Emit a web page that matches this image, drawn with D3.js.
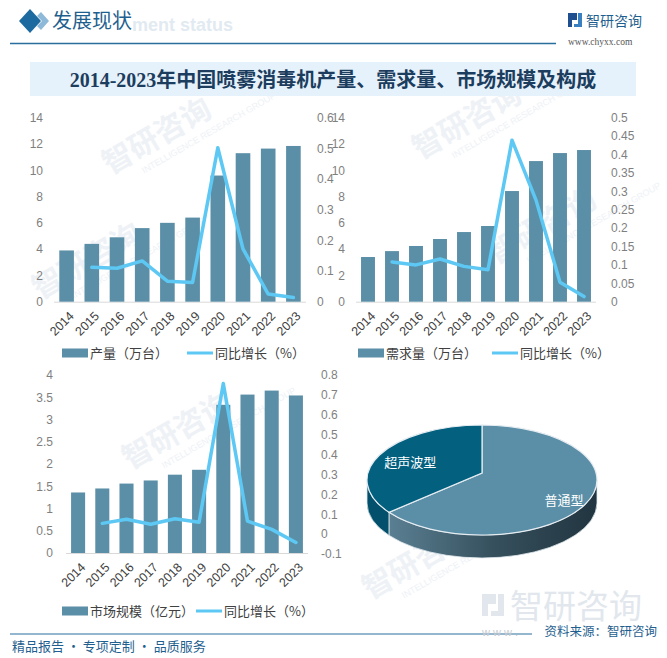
<!DOCTYPE html>
<html><head><meta charset="utf-8">
<script src="https://cdn.jsdelivr.net/npm/d3@7"></script>
<style>body{margin:0;background:#fff}svg{display:block}</style>
</head><body><svg id="c" width="667" height="658"></svg>
<script>
const years = ['2014','2015','2016','2017','2018','2019','2020','2021','2022','2023'];
const productionValues = [3.9,4.4,4.9,5.6,6.0,6.4,9.6,11.3,11.65,11.85];
const productionGrowth = [null,0.112,0.109,0.133,0.067,0.063,0.502,0.172,0.025,0.014];
const demandValues = [3.4,3.85,4.24,4.77,5.3,5.76,8.42,10.7,11.31,11.54];
const demandGrowth = [null,0.108,0.100,0.116,0.096,0.087,0.439,0.276,0.053,0.014];
const marketValues = [1.36,1.45,1.56,1.63,1.76,1.87,3.33,3.56,3.65,3.54];
const marketGrowth = [null,0.054,0.075,0.050,0.077,0.060,0.757,0.065,0.024,-0.042];
const ticksLeft14 = [0,2,4,6,8,10,12,14];
const ticksRight06 = [0,0.1,0.2,0.3,0.4,0.5,0.6];
const ticksRight05 = [0,0.05,0.1,0.15,0.2,0.25,0.3,0.35,0.4,0.45,0.5];
const ticksLeft4 = [0,0.5,1,1.5,2,2.5,3,3.5,4];
const ticksRight08 = [-0.1,0,0.1,0.2,0.3,0.4,0.5,0.6,0.7,0.8];
const pieNames = ['普通型','超声波型'];
const pieShares = [65,35];
const legendNames = ['产量（万台）','需求量（万台）','市场规模（亿元）','同比增长（%）'];

const svg = d3.select('#c');
const CJK = '"Noto Sans CJK SC","Noto Sans",sans-serif';
const NUM = '"Liberation Sans","Noto Sans",sans-serif';
const BAR = '#5b8fa7', LINE = '#5dc8f3';
const fmt = d => String(+d.toFixed(2));

// faint watermarks
const wm = svg.append('g').attr('fill','#eef2f6');
[[110,175],[420,160],[130,470],[495,265],[370,600],[40,300]].forEach(([x,y])=>{
  const g = wm.append('g').attr('transform',`translate(${x},${y}) rotate(-30)`);
  g.append('text').attr('font-family',CJK).attr('font-size',30).attr('font-weight','bold').text('智研咨询');
  g.append('text').attr('y',16).attr('x',30).attr('font-family',NUM).attr('font-size',9).text('INTELLIGENCE RESEARCH GROUP');
});

// header
svg.append('path').attr('d','M30,9 L41,21 L30,33 L19,21 Z').attr('fill','#1d6aa0');
svg.append('path').attr('d','M41,12 L49,21 L41,30 L37,26 L42,21 L37,16 Z').attr('fill','#8fb9d8');
svg.append('text').attr('x',132).attr('y',31).attr('font-family',NUM).attr('font-weight','bold')
  .attr('font-size',18).attr('fill','#e2eaf1').text('ment status');
svg.append('text').attr('x',52).attr('y',28).attr('font-family',CJK).attr('font-size',20)
  .attr('fill','#1f5f8f').text('发展现状');
svg.append('line').attr('x1',10).attr('x2',556).attr('y1',43.5).attr('y2',43.5).attr('stroke','#2a6e9e').attr('stroke-width',1.5);
// logo
const lg = svg.append('g').attr('fill','#1f4f8f');
lg.append('path').attr('d','M568,13 h9 v7 h-5 v7 h-4 Z');
lg.append('path').attr('d','M578,13 h4 v14 h-8 v-3 h4 Z').attr('fill','#3a7fc0');
svg.append('text').attr('x',586).attr('y',26).attr('font-family',CJK).attr('font-size',14).attr('fill','#1f5f8f').text('智研咨询');
svg.append('text').attr('x',568).attr('y',45).attr('font-family','"Liberation Serif",serif').attr('font-size',9.5).attr('fill','#555').text('www.chyxx.com');

// title bar
svg.append('rect').attr('x',30).attr('y',62).attr('width',606).attr('height',34).attr('fill','#e6f2fb');
svg.append('text').attr('x',333).attr('y',87).attr('text-anchor','middle').attr('font-family','"Liberation Serif","Noto Sans CJK SC",serif')
  .attr('font-weight','bold').attr('font-size',20).attr('fill','#1c3d5e').text('2014-2023年中国喷雾消毒机产量、需求量、市场规模及构成');

function combo(o){
  const g = svg.append('g');
  const x = d3.scaleBand().domain(years).range([o.x0,o.x1]).paddingInner(0.42).paddingOuter(0.21);
  const yL = d3.scaleLinear().domain(o.leftDomain).range([o.yBot,o.yTop]);
  const yR = d3.scaleLinear().domain(o.rightDomain).range([o.rBot,o.rTop]);
  const aL = g.append('g').attr('transform',`translate(${o.leftLabelX},0)`)
    .call(d3.axisLeft(yL).tickValues(o.leftTicks).tickSize(0).tickPadding(0).tickFormat(fmt));
  const aR = g.append('g').attr('transform',`translate(${o.rightLabelX},0)`)
    .call(d3.axisRight(yR).tickValues(o.rightTicks).tickSize(0).tickPadding(0).tickFormat(fmt));
  [aL,aR].forEach(a=>{a.select('.domain').remove();a.selectAll('text').attr('fill','#7f7f7f').attr('font-family',NUM).attr('font-size',12);});
  g.append('line').attr('x1',o.x0).attr('x2',o.x1).attr('y1',yL(0)+0.5).attr('y2',yL(0)+0.5).attr('stroke','#d9d9d9');
  g.selectAll('rect.bar').data(o.bars).join('rect').attr('class','bar')
    .attr('x',(d,i)=>x(years[i])).attr('width',x.bandwidth())
    .attr('y',d=>yL(d)).attr('height',d=>yL(0)-yL(d)).attr('fill',BAR);
  const pts = o.growth.map((v,i)=>({v,i})).filter(d=>d.v!==null);
  g.append('path').datum(pts).attr('fill','none').attr('stroke',LINE).attr('stroke-width',3.5)
    .attr('stroke-linejoin','round').attr('stroke-linecap','round')
    .attr('d',d3.line().x(d=>x(years[d.i])+x.bandwidth()/2).y(d=>yR(d.v)));
  g.selectAll('text.yr').data(years).join('text').attr('class','yr')
    .attr('transform',d=>`translate(${x(d)+x.bandwidth()/2+5},${o.yBot+12}) rotate(-45)`)
    .attr('text-anchor','end').attr('dy','0.35em').attr('font-family',NUM).attr('font-size',12.5).attr('fill','#404040').text(d=>d);
  // legend
  const L = g.append('g').attr('font-family',CJK).attr('font-size',13).attr('fill','#404040');
  L.append('rect').attr('x',o.lgX1).attr('y',o.lgY-4.5).attr('width',26).attr('height',9).attr('fill',BAR);
  L.append('text').attr('x',o.lgX1+28).attr('y',o.lgY).attr('dy','0.35em').text(o.barName);
  L.append('line').attr('x1',o.lgX2).attr('x2',o.lgX2+26).attr('y1',o.lgY).attr('y2',o.lgY).attr('stroke',LINE).attr('stroke-width',3);
  L.append('text').attr('x',o.lgX2+28).attr('y',o.lgY).attr('dy','0.35em').text(legendNames[3]);
}

combo({x0:54,x1:306,yTop:117.7,yBot:301.7,leftDomain:[0,14],leftTicks:ticksLeft14,
  rightDomain:[0,0.6],rTop:117.7,rBot:301.7,rightTicks:ticksRight06,leftLabelX:43,rightLabelX:317,
  bars:productionValues,growth:productionGrowth,lgY:353,lgX1:62,lgX2:187,barName:legendNames[0]});
combo({x0:356,x1:596,yTop:117.7,yBot:301.7,leftDomain:[0,14],leftTicks:ticksLeft14,
  rightDomain:[0,0.5],rTop:117.7,rBot:301.7,rightTicks:ticksRight05,leftLabelX:345,rightLabelX:611,
  bars:demandValues,growth:demandGrowth,lgY:353,lgX1:358,lgX2:492,barName:legendNames[1]});
combo({x0:66,x1:308,yTop:375,yBot:553,leftDomain:[0,4],leftTicks:ticksLeft4,
  rightDomain:[-0.1,0.8],rTop:375,rBot:554,rightTicks:ticksRight08,leftLabelX:53,rightLabelX:321,
  bars:marketValues,growth:marketGrowth,lgY:611,lgX1:62,lgX2:196,barName:legendNames[2]});

// 3D pie
const pieColors = ['#5b8fa7','#03607f'];
const arcs = d3.pie().sort(null).value(d=>d)(pieShares);
const cx=482, cy=480, rx=115, ry=55, depth=23, apexY=473;
const P=(a,dy=0)=>[cx+rx*Math.sin(a), cy-ry*Math.cos(a)+dy];
const defs = svg.append('defs');
const gr = defs.append('linearGradient').attr('id','sideA').attr('gradientUnits','userSpaceOnUse')
  .attr('x1',390).attr('x2',597).attr('y1',0).attr('y2',0);
gr.append('stop').attr('offset',0).attr('stop-color','#5a7f92');
gr.append('stop').attr('offset',0.5).attr('stop-color','#36505d');
gr.append('stop').attr('offset',1).attr('stop-color','#213540');
const sideFills = ['url(#sideA)','#02506b'];
const pg = svg.append('g');
arcs.forEach((a,i)=>{
  const s=Math.max(a.startAngle,Math.PI/2), e=Math.min(a.endAngle,Math.PI*1.5);
  if(s<e){
    const p0=P(s),p1=P(e),p2=P(e,depth),p3=P(s,depth);
    pg.append('path').attr('d',`M${p0}A${rx},${ry} 0 0 1 ${p1}L${p2}A${rx},${ry} 0 0 0 ${p3}Z`)
      .attr('fill',sideFills[i]).attr('stroke','#dfe8ee').attr('stroke-width',0.8);
  }
});
arcs.forEach((a,i)=>{
  const p0=P(a.startAngle),p1=P(a.endAngle);
  const large = (a.endAngle-a.startAngle)>Math.PI?1:0;
  pg.append('path').attr('d',`M${cx},${apexY}L${p0}A${rx},${ry} 0 ${large} 1 ${p1}Z`)
    .attr('fill',pieColors[i]).attr('stroke','#e6edf2').attr('stroke-width',1.2);
});
const labelR = [0.8, 0.7];
arcs.forEach((a,i)=>{
  const m=(a.startAngle+a.endAngle)/2;
  const [lx,ly]=[cx+rx*labelR[i]*Math.sin(m), cy-ry*labelR[i]*Math.cos(m)];
  pg.append('text').attr('x',lx).attr('y',ly).attr('dy','0.35em').attr('text-anchor','middle')
    .attr('font-family',CJK).attr('font-size',13).attr('fill','#fff').text(pieNames[i]);
});

// bottom-right watermark
const bw = svg.append('g').attr('fill','#e1e7ed');
bw.append('path').attr('d','M482,594 h14 v10 h-8 v12 h-6 Z');
bw.append('path').attr('d','M498,594 h6 v22 h-13 v-5 h7 Z');
bw.append('text').attr('x',510).attr('y',618).attr('font-family',CJK).attr('font-size',33).text('智研咨询');

// footer
svg.append('line').attr('x1',10).attr('x2',532).attr('y1',634).attr('y2',634).attr('stroke','#2a6e9e').attr('stroke-width',1.2);
svg.append('text').attr('x',482).attr('y',636).attr('font-family',NUM).attr('font-size',11).attr('fill','#c8cdd2').text('w w w .');
svg.append('text').attr('x',657).attr('y',636).attr('text-anchor','end').attr('font-family',CJK).attr('font-size',12.5).attr('fill','#1f5f8f').text('资料来源：智研咨询');
svg.append('text').attr('x',12).attr('y',651).attr('font-family',CJK).attr('font-size',13).attr('fill','#1f5f8f').text('精品报告 · 专项定制 · 品质服务');
</script></body></html>
